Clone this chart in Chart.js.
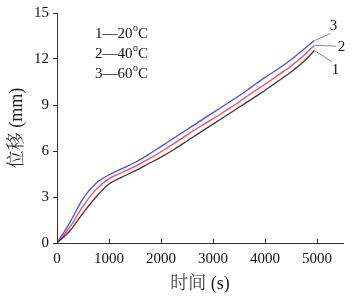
<!DOCTYPE html>
<html><head><meta charset="utf-8">
<script src="https://cdn.jsdelivr.net/npm/chart.js@4/dist/chart.umd.min.js"></script>
<style>html,body{margin:0;padding:0;background:#fff}#wrap{width:352px;height:297px}</style>
</head><body><div id="wrap"><canvas id="c"></canvas></div>
<script>
const times  = [0,250,500,750,1000,1250,1500,1750,2000,2250,2500,2750,3000,3250,3500,3750,4000,4250,4500,4750,4950];
const disp20 = [0,0.8,1.95,3.0,3.85,4.3,4.7,5.15,5.6,6.1,6.65,7.2,7.75,8.3,8.85,9.4,9.95,10.55,11.15,11.85,12.55];
const disp40 = [0,1.05,2.4,3.5,4.2,4.6,5.0,5.45,5.95,6.5,7.05,7.6,8.1,8.65,9.2,9.8,10.35,10.95,11.55,12.25,12.9];
const disp60 = [0,1.35,2.9,3.9,4.45,4.85,5.25,5.75,6.3,6.85,7.4,7.95,8.5,9.05,9.6,10.2,10.8,11.35,11.95,12.65,13.2];
const seriesLabels = ['1','2','3'];
const legendLines = ['1\u201420','2\u201440','3\u201460'];
const xTicks = [0,1000,2000,3000,4000,5000];
const yTicks = [0,3,6,9,12,15];

const serif = '"Liberation Serif","Times New Roman",serif';
const cjk = '"Liberation Serif","Noto Serif CJK SC","Noto Sans CJK SC",serif';
const toXY = arr => arr.map((v,i)=>({x:times[i], y:v}));

const annot = {
  id:'annot',
  afterDraw(chart){
    const ctx = chart.ctx, xs = chart.scales.x, ca = chart.chartArea;
    ctx.save();
    ctx.strokeStyle = '#333'; ctx.lineWidth = 1;
    xTicks.forEach(t=>{
      const px = Math.round(xs.getPixelForValue(t))+0.5;
      ctx.beginPath(); ctx.moveTo(px, ca.bottom); ctx.lineTo(px, ca.bottom-4); ctx.stroke();
    });
    const offs = [[17,11,21,19],[22,1,27,2],[16,-7,19,-15]];
    ctx.strokeStyle = '#8a8a8a';
    ctx.fillStyle = '#111';
    ctx.font = '15px ' + serif;
    ctx.textAlign = 'center'; ctx.textBaseline = 'middle';
    for(let i=0;i<3;i++){
      const meta = chart.getDatasetMeta(i);
      const p = meta.data[meta.data.length-1];
      const o = offs[i];
      ctx.beginPath(); ctx.moveTo(p.x, p.y); ctx.lineTo(p.x+o[0], p.y+o[1]); ctx.stroke();
      ctx.fillText(seriesLabels[i], p.x+o[2], p.y+o[3]);
    }
    ctx.textAlign = 'left'; ctx.textBaseline = 'alphabetic';
    legendLines.forEach((s,i)=>{
      const y = 38 + i*20;
      let x = 95;
      ctx.font = '15px ' + serif;
      ctx.fillText(s, x, y); x += ctx.measureText(s).width;
      ctx.font = '10px ' + serif;
      ctx.fillText('o', x+0.5, y-7); x += ctx.measureText('o').width + 0.5;
      ctx.font = '15px ' + serif;
      ctx.fillText('C', x, y);
    });
    ctx.restore();
  }
};

new Chart(document.getElementById('c'), {
  type:'line',
  data:{datasets:[
    {data:toXY(disp20), borderColor:'#3a3a3a', borderWidth:1.3, pointRadius:0, tension:0.4, cubicInterpolationMode:'monotone'},
    {data:toXY(disp40), borderColor:'#ff4a4a', borderWidth:1.3, pointRadius:0, tension:0.4, cubicInterpolationMode:'monotone'},
    {data:toXY(disp60), borderColor:'#4a4aff', borderWidth:1.3, pointRadius:0, tension:0.4, cubicInterpolationMode:'monotone'}
  ]},
  options:{
    responsive:true, maintainAspectRatio:false, animation:false,
    layout:{padding:{left:0,right:9,top:11,bottom:0}},
    plugins:{legend:{display:false}, tooltip:{enabled:false}},
    scales:{
      x:{type:'linear', min:0, max:5500,
        afterBuildTicks:s=>{s.ticks = xTicks.map(v=>({value:v}));},
        afterFit:s=>{s.height = 54;},
        border:{display:true,color:'#333',width:1},
        grid:{display:true, drawOnChartArea:false, drawTicks:false},
        ticks:{font:{family:serif,size:15}, color:'#111', padding:7, maxRotation:0, callback:v=>String(v)},
        title:{display:true, text:'时间 (s)', font:{family:cjk,size:18,weight:300}, color:'#222', padding:{top:0,bottom:2}}
      },
      y:{type:'linear', min:0, max:15,
        afterBuildTicks:s=>{s.ticks = yTicks.map(v=>({value:v}));},
        afterFit:s=>{s.width = 57;},
        border:{display:true,color:'#333',width:1},
        grid:{display:true, drawOnChartArea:false, drawTicks:true, tickLength:4, color:'#333'},
        ticks:{font:{family:serif,size:15}, color:'#111', padding:4, callback:v=>String(v)},
        title:{display:true, text:'位移 (mm)', font:{family:cjk,size:18,weight:300}, color:'#222', padding:{top:6,bottom:0}}
      }
    }
  },
  plugins:[annot]
});
</script>
</body></html>
